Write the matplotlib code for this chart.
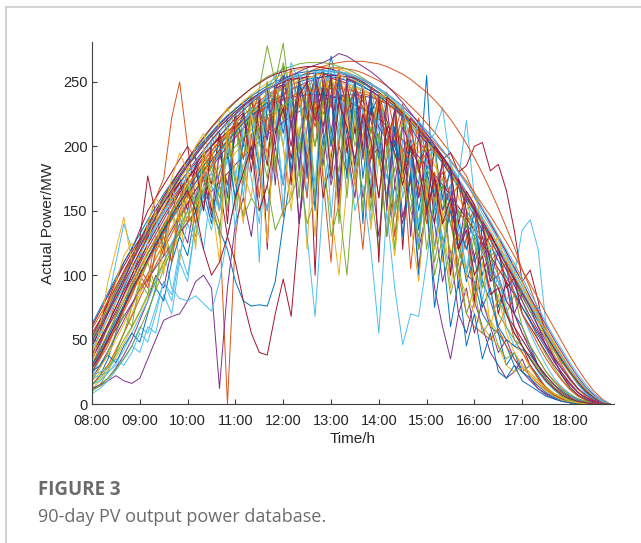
import matplotlib
matplotlib.use("Agg")
import matplotlib.pyplot as plt
import numpy as np
import pandas as pd
from matplotlib.lines import Line2D

#=============================================================================
#... data : PV output power (MW), 10-min samples from 08:00 to 18:50
#....................................
stamps = pd.date_range("2022-06-01 08:00", "2022-06-01 18:50", freq="10min")
hours = stamps.hour + stamps.minute / 60.0

tick_hours = [8, 9, 10, 11, 12, 13, 14, 15, 16, 17, 18]
tick_labels = ["08:00", "09:00", "10:00", "11:00", "12:00", "13:00",
               "14:00", "15:00", "16:00", "17:00", "18:00"]
y_ticks = [0, 50, 100, 150, 200, 250]

day_a = [45, 58, 71, 84, 97, 110, 122, 134, 145, 156, 166,
         176, 185, 193, 201, 208, 215, 221, 227, 232, 237, 241,
         245, 248, 251, 253, 255, 256, 257, 257, 256, 255, 253,
         250, 247, 243, 239, 234, 229, 223, 217, 210, 203, 195,
         187, 178, 169, 160, 150, 140, 130, 119, 108, 97, 86,
         75, 64, 53, 43, 33, 24, 16, 9, 4, 1, 0]
day_b = [30, 40, 51, 62, 74, 86, 98, 110, 121, 132, 143,
         153, 163, 172, 181, 189, 197, 205, 212, 219, 225, 231,
         236, 241, 246, 250, 254, 257, 260, 262, 264, 265, 266,
         266, 266, 265, 264, 262, 259, 256, 252, 247, 242, 236,
         229, 221, 212, 202, 191, 179, 166, 152, 137, 122, 104,
         90, 73, 56, 42, 30, 20, 12, 6, 2, 0, 0]
day_c = [28, 38, 48, 58, 68, 78, 88, 97, 106, 115, 124,
         133, 141, 149, 157, 165, 172, 179, 186, 192, 198, 204,
         209, 214, 219, 223, 227, 231, 234, 236, 238, 239, 240,
         240, 239, 238, 236, 233, 229, 225, 220, 214, 207, 200,
         192, 183, 174, 164, 154, 143, 132, 120, 108, 96, 84,
         72, 60, 49, 38, 28, 19, 12, 6, 2, 0, 0]
day_d = [62, 74, 86, 98, 110, 121, 132, 143, 153, 163, 172,
         181, 189, 197, 204, 211, 218, 224, 229, 234, 239, 243,
         247, 250, 253, 255, 257, 258, 259, 259, 258, 257, 255,
         252, 249, 245, 241, 236, 231, 225, 219, 212, 205, 197,
         188, 178, 168, 157, 146, 135, 123, 111, 99, 87, 75,
         64, 53, 43, 33, 24, 16, 9, 4, 1, 0, 0]
day_e = [12, 18, 26, 36, 47, 59, 71, 83, 95, 107, 119,
         130, 141, 151, 161, 170, 179, 187, 195, 202, 209, 215,
         221, 226, 231, 235, 238, 241, 243, 245, 246, 246, 246,
         245, 243, 240, 237, 233, 228, 223, 217, 210, 203, 196,
         188, 180, 171, 162, 152, 142, 131, 120, 109, 98, 87,
         76, 65, 55, 45, 35, 26, 18, 11, 5, 2, 0]
day_f = [50, 63, 76, 89, 102, 114, 126, 138, 149, 160, 170,
         180, 189, 198, 206, 214, 221, 228, 234, 240, 245, 250,
         254, 257, 260, 262, 264, 265, 265, 265, 264, 262, 260,
         257, 253, 249, 244, 239, 233, 227, 220, 213, 205, 197,
         188, 179, 169, 159, 149, 138, 127, 116, 105, 94, 83,
         72, 61, 51, 41, 32, 24, 16, 10, 5, 2, 0]
day_g = [20, 45, 80, 110, 140, 120, 128, 140, 150, 120, 90,
         82, 80, 84, 78, 72, 95, 130, 160, 185, 200, 175,
         150, 190, 220, 180, 200, 130, 68, 160, 210, 240, 200,
         150, 170, 120, 55, 150, 90, 46, 70, 68, 110, 160,
         130, 100, 140, 120, 150, 130, 110, 120, 115, 100, 135,
         143, 120, 60, 35, 22, 12, 6, 3, 1, 0, 0]
day_h = [15, 22, 35, 55, 75, 95, 110, 125, 140, 150, 165,
         175, 160, 185, 175, 150, 135, 120, 95, 80, 76, 77,
         76, 95, 140, 180, 210, 230, 245, 225, 240, 250, 235,
         240, 230, 225, 215, 205, 200, 180, 190, 170, 255, 150,
         160, 140, 120, 100, 95, 70, 60, 55, 45, 30, 25,
         30, 22, 12, 6, 3, 1, 0, 0, 0, 0, 0]
day_i = [55, 65, 80, 95, 110, 120, 135, 150, 160, 170, 180,
         190, 200, 160, 185, 150, 170, 130, 110, 80, 55, 40,
         38, 70, 97, 68, 140, 200, 230, 160, 190, 240, 210,
         170, 220, 190, 230, 200, 150, 180, 205, 160, 190, 175,
         150, 165, 120, 140, 115, 130, 100, 90, 70, 60, 45,
         30, 20, 12, 7, 4, 2, 1, 0, 0, 0, 0]
day_j = [30, 45, 60, 80, 95, 110, 125, 140, 160, 175, 222,
         250, 200, 190, 175, 160, 140, 0, 130, 175, 200, 215,
         195, 230, 240, 215, 250, 225, 200, 245, 255, 230, 250,
         240, 215, 235, 225, 200, 215, 190, 205, 185, 195, 170,
         180, 160, 150, 140, 130, 118, 105, 95, 80, 70, 55,
         45, 35, 25, 18, 12, 7, 4, 2, 1, 0, 0]
day_k = [12, 14, 18, 22, 18, 16, 20, 35, 50, 65, 68,
         70, 80, 95, 100, 90, 12, 90, 140, 160, 130, 180,
         150, 200, 170, 220, 140, 190, 230, 210, 170, 200, 180,
         215, 160, 190, 200, 130, 170, 140, 180, 120, 150, 90,
         60, 35, 70, 55, 80, 60, 40, 30, 20, 25, 35,
         20, 12, 8, 5, 3, 1, 0, 0, 0, 0, 0]
day_l = [18, 24, 30, 40, 55, 70, 85, 100, 90, 125, 150,
         110, 165, 140, 190, 150, 200, 170, 215, 180, 160, 225,
         190, 240, 200, 150, 215, 120, 240, 180, 150, 100, 170,
         230, 195, 160, 210, 185, 120, 200, 170, 190, 140, 175,
         110, 160, 130, 145, 100, 80, 65, 55, 50, 45, 40,
         28, 20, 13, 8, 5, 3, 1, 0, 0, 0, 0]
day_m = [48, 60, 73, 86, 99, 111, 123, 135, 146, 157, 167,
         177, 186, 194, 202, 209, 190, 222, 150, 232, 220, 245,
         278, 250, 280, 230, 255, 180, 258, 240, 257, 200, 253,
         251, 248, 210, 240, 236, 231, 225, 219, 212, 205, 197,
         189, 180, 171, 162, 152, 142, 132, 121, 110, 99, 88,
         77, 66, 55, 45, 35, 26, 18, 11, 6, 2, 0]
day_n = [35, 48, 60, 70, 85, 100, 115, 130, 140, 150, 162,
         172, 150, 185, 195, 170, 210, 190, 225, 200, 235, 215,
         185, 245, 230, 200, 250, 230, 255, 215, 250, 240, 195,
         245, 235, 225, 240, 220, 200, 225, 215, 205, 195, 200,
         190, 195, 180, 185, 200, 203, 181, 186, 166, 135, 95,
         104, 80, 50, 35, 22, 13, 7, 3, 1, 0, 0]
day_o = [22, 35, 50, 68, 85, 100, 112, 125, 137, 148, 158,
         168, 177, 186, 194, 201, 208, 214, 220, 160, 229, 110,
         237, 240, 200, 245, 247, 160, 250, 251, 251, 215, 249,
         247, 244, 241, 237, 200, 228, 222, 216, 209, 202, 210,
         230, 185, 176, 220, 160, 148, 138, 127, 116, 104, 92,
         80, 68, 56, 45, 34, 24, 15, 8, 3, 1, 0]
day_p = [40, 50, 62, 75, 90, 104, 118, 132, 144, 120, 165,
         140, 185, 192, 150, 205, 212, 160, 225, 230, 190, 240,
         205, 250, 262, 215, 245, 175, 250, 235, 270, 240, 210,
         250, 175, 230, 205, 160, 215, 180, 200, 150, 185, 120,
         170, 155, 90, 150, 140, 100, 120, 75, 95, 70, 60,
         45, 30, 20, 12, 7, 4, 2, 1, 0, 0, 0]
day_q = [50, 62, 75, 88, 101, 113, 125, 137, 148, 159, 169,
         178, 187, 195, 203, 210, 217, 223, 229, 234, 239, 205,
         246, 170, 252, 230, 140, 215, 250, 185, 240, 255, 200,
         160, 225, 180, 130, 190, 210, 145, 175, 105, 160, 140,
         95, 120, 70, 90, 55, 80, 60, 40, 50, 35, 25,
         18, 12, 7, 4, 2, 1, 0, 0, 0, 0, 0]
day_r = [40, 53, 66, 79, 92, 105, 118, 130, 142, 153, 164,
         174, 184, 193, 201, 209, 216, 223, 229, 235, 240, 245,
         249, 253, 256, 258, 260, 261, 262, 262, 261, 260, 258,
         255, 252, 248, 244, 239, 234, 228, 222, 215, 208, 200,
         192, 183, 174, 165, 155, 145, 135, 124, 113, 102, 91,
         80, 69, 58, 48, 38, 28, 19, 12, 6, 2, 0]
day_s = [60, 72, 84, 96, 107, 118, 128, 177, 147, 156, 164,
         172, 180, 187, 194, 200, 206, 211, 216, 220, 224, 228,
         231, 234, 236, 238, 239, 240, 240, 240, 239, 237, 235,
         232, 229, 225, 221, 216, 211, 205, 199, 192, 185, 178,
         170, 162, 153, 144, 135, 125, 115, 105, 95, 85, 75,
         65, 55, 45, 36, 27, 19, 12, 6, 2, 0, 0]
day_t = [10, 15, 25, 40, 55, 75, 95, 85, 120, 140, 110,
         160, 175, 150, 195, 170, 210, 150, 225, 205, 240, 185,
         250, 225, 265, 240, 205, 250, 225, 260, 235, 210, 245,
         225, 250, 200, 235, 215, 180, 220, 195, 205, 175, 195,
         160, 180, 145, 160, 130, 140, 115, 120, 95, 100, 80,
         65, 50, 38, 28, 19, 12, 7, 3, 1, 0, 0]
day_u = [15, 22, 30, 42, 55, 68, 82, 95, 108, 120, 132,
         144, 155, 166, 176, 186, 195, 204, 212, 219, 226, 232,
         238, 243, 247, 251, 254, 257, 259, 260, 261, 261, 260,
         259, 257, 254, 251, 247, 242, 237, 231, 225, 218, 211,
         203, 195, 186, 177, 163, 152, 141, 130, 118, 106, 95,
         82, 70, 58, 47, 37, 27, 18, 11, 5, 2, 0]
day_v = [8, 12, 18, 26, 35, 45, 40, 60, 55, 85, 70,
         110, 95, 140, 120, 170, 150, 200, 135, 215, 230, 200,
         245, 255, 220, 265, 250, 240, 258, 230, 262, 250, 255,
         225, 250, 245, 215, 238, 230, 190, 220, 212, 180, 200,
         150, 185, 175, 130, 155, 145, 100, 120, 80, 95, 70,
         55, 42, 30, 20, 13, 8, 4, 2, 0, 0, 0]
day_w = [25, 35, 45, 60, 75, 90, 105, 95, 130, 115, 150,
         165, 140, 180, 160, 195, 150, 205, 175, 145, 210, 160,
         225, 190, 145, 230, 200, 160, 240, 175, 110, 205, 240,
         180, 120, 200, 160, 215, 130, 190, 105, 170, 140, 180,
         120, 155, 100, 130, 75, 110, 90, 60, 75, 50, 40,
         30, 20, 13, 8, 5, 2, 1, 0, 0, 0, 0]
day_x1 = [35, 47, 59, 71, 83, 95, 107, 118, 129, 140, 150,
          160, 169, 178, 186, 194, 201, 208, 214, 220, 225, 230,
          234, 238, 241, 244, 246, 248, 249, 250, 250, 249, 248,
          246, 244, 241, 237, 233, 228, 223, 217, 211, 204, 197,
          189, 181, 172, 163, 153, 143, 133, 122, 111, 100, 89,
          78, 67, 56, 46, 36, 27, 19, 12, 6, 2, 0]
day_x2 = [20, 30, 41, 53, 65, 77, 89, 101, 113, 124, 135,
          146, 156, 166, 175, 184, 192, 200, 207, 214, 220, 226,
          231, 236, 240, 244, 247, 250, 252, 254, 255, 255, 254,
          253, 251, 248, 245, 241, 236, 231, 225, 219, 212, 205,
          197, 189, 180, 171, 161, 151, 140, 129, 118, 106, 95,
          83, 72, 61, 50, 40, 30, 21, 13, 7, 3, 0]
day_x3 = [18, 28, 40, 55, 70, 60, 95, 110, 90, 135, 150,
          130, 175, 155, 195, 180, 150, 215, 230, 170, 240, 210,
          250, 180, 255, 235, 160, 260, 225, 190, 255, 140, 235,
          250, 200, 170, 240, 215, 150, 225, 190, 120, 200, 165,
          175, 140, 110, 150, 125, 90, 115, 100, 70, 85, 60,
          45, 35, 25, 17, 11, 7, 4, 2, 1, 0, 0]
day_x4 = [20, 22, 25, 30, 35, 45, 60, 55, 75, 95, 85,
          120, 100, 140, 155, 135, 170, 190, 160, 205, 175, 140,
          215, 235, 150, 245, 200, 230, 170, 250, 145, 215, 240,
          180, 230, 140, 205, 175, 230, 160, 190, 125, 175, 150,
          120, 165, 135, 105, 140, 80, 110, 95, 60, 45, 50,
          40, 28, 18, 11, 6, 3, 1, 0, 0, 0, 0]
day_x5 = [52, 65, 78, 91, 103, 115, 127, 139, 150, 161, 171,
          181, 190, 199, 207, 215, 222, 229, 235, 240, 245, 249,
          253, 256, 258, 260, 261, 262, 262, 261, 260, 258, 256,
          253, 250, 246, 242, 237, 232, 226, 220, 213, 206, 198,
          190, 181, 172, 162, 152, 142, 131, 120, 109, 98, 87,
          76, 65, 54, 44, 34, 25, 17, 10, 5, 1, 0]
day_x6 = [25, 37, 50, 63, 76, 89, 101, 113, 125, 136, 147,
          157, 167, 176, 185, 193, 201, 208, 215, 221, 227, 232,
          237, 241, 245, 248, 250, 252, 253, 254, 254, 253, 251,
          249, 246, 243, 239, 234, 229, 224, 218, 180, 205, 198,
          160, 182, 140, 120, 150, 95, 80, 60, 50, 45, 42,
          38, 30, 22, 15, 10, 6, 3, 1, 0, 0, 0]
day_x7 = [30, 42, 55, 68, 80, 93, 105, 117, 128, 139, 150,
          160, 170, 179, 188, 196, 204, 211, 218, 224, 230, 235,
          240, 244, 248, 251, 253, 220, 256, 257, 230, 257, 256,
          254, 252, 249, 230, 242, 210, 233, 180, 222, 190, 170,
          140, 150, 100, 70, 60, 55, 50, 58, 45, 35, 28,
          22, 16, 11, 7, 4, 2, 1, 0, 0, 0, 0]
day_x8 = [40, 55, 75, 95, 115, 125, 110, 140, 160, 150, 175,
          195, 180, 200, 210, 190, 220, 230, 215, 235, 240, 225,
          245, 250, 220, 255, 245, 200, 250, 240, 255, 230, 245,
          215, 240, 220, 235, 225, 205, 220, 210, 195, 200, 185,
          175, 190, 160, 150, 165, 140, 120, 130, 105, 110, 95,
          80, 65, 50, 38, 27, 18, 11, 6, 3, 1, 0]
day_x9 = [12, 15, 20, 28, 38, 50, 65, 80, 100, 90, 120,
          140, 125, 160, 175, 145, 195, 170, 210, 225, 190, 230,
          205, 245, 255, 215, 250, 180, 245, 260, 210, 255, 230,
          185, 245, 220, 195, 235, 170, 215, 200, 160, 195, 175,
          150, 170, 120, 140, 110, 125, 95, 100, 80, 70, 55,
          42, 30, 20, 13, 8, 4, 2, 1, 0, 0, 0]
day_x10 = [30, 42, 55, 68, 80, 92, 104, 116, 127, 138, 149,
           159, 169, 150, 185, 160, 130, 210, 170, 145, 160, 150,
           170, 135, 150, 160, 180, 140, 160, 200, 130, 155, 100,
           180, 210, 165, 120, 200, 145, 185, 150, 130, 170, 110,
           145, 160, 120, 100, 130, 90, 110, 70, 60, 50, 45,
           35, 25, 17, 11, 6, 3, 1, 0, 0, 0, 0]
day_x11 = [15, 18, 24, 32, 42, 55, 68, 80, 95, 110, 125,
           138, 150, 162, 174, 184, 194, 203, 212, 220, 227, 233,
           239, 244, 248, 251, 254, 256, 257, 258, 258, 257, 256,
           254, 251, 248, 244, 240, 235, 229, 223, 216, 209, 201,
           193, 184, 175, 165, 155, 144, 133, 122, 111, 100, 88,
           77, 66, 55, 45, 36, 27, 19, 12, 6, 2, 0]
day_x12 = [45, 57, 70, 82, 94, 106, 118, 129, 140, 151, 161,
           171, 180, 189, 197, 205, 212, 219, 225, 231, 236, 240,
           244, 247, 250, 252, 253, 254, 254, 230, 253, 251, 249,
           210, 244, 160, 237, 200, 228, 120, 217, 180, 204, 140,
           190, 100, 175, 150, 80, 140, 110, 70, 95, 60, 50,
           40, 30, 22, 15, 9, 5, 2, 1, 0, 0, 0]
day_x13 = [25, 30, 38, 32, 45, 55, 48, 70, 90, 80, 110,
           130, 115, 150, 165, 140, 180, 195, 160, 205, 220, 180,
           230, 240, 210, 245, 185, 235, 250, 200, 240, 170, 225,
           245, 195, 230, 215, 155, 205, 180, 200, 135, 180, 160,
           120, 150, 130, 95, 115, 75, 90, 55, 30, 40, 25,
           20, 14, 9, 5, 3, 1, 0, 0, 0, 0, 0]
day_x14 = [58, 69, 80, 91, 102, 112, 122, 132, 141, 150, 159,
           167, 175, 183, 190, 197, 203, 209, 214, 219, 223, 227,
           231, 234, 237, 239, 241, 243, 244, 245, 245, 245, 244,
           243, 241, 239, 236, 233, 229, 225, 220, 215, 209, 203,
           196, 189, 181, 173, 164, 155, 146, 136, 126, 115, 104,
           93, 82, 70, 59, 48, 37, 27, 18, 10, 4, 0]
day_x15 = [20, 28, 38, 50, 62, 75, 88, 100, 113, 125, 137,
           148, 159, 169, 179, 188, 196, 204, 212, 219, 225, 231,
           236, 241, 245, 248, 251, 253, 255, 256, 240, 255, 253,
           251, 248, 200, 241, 237, 232, 180, 220, 213, 160, 198,
           140, 120, 100, 85, 70, 60, 52, 45, 30, 25, 28,
           22, 15, 10, 6, 3, 1, 0, 0, 0, 0, 0]
day_x16 = [35, 47, 60, 72, 85, 97, 109, 121, 132, 143, 154,
           164, 174, 183, 192, 200, 208, 215, 222, 228, 234, 239,
           244, 248, 252, 255, 258, 261, 263, 265, 268, 272, 270,
           266, 262, 258, 253, 247, 241, 234, 226, 218, 210, 201,
           192, 182, 172, 162, 151, 140, 128, 116, 104, 92, 80,
           68, 57, 46, 36, 27, 19, 12, 7, 3, 1, 0]
day_y1 = [10, 14, 20, 27, 35, 45, 58, 72, 88, 105, 120,
          135, 150, 130, 170, 185, 160, 200, 215, 190, 230, 205,
          175, 240, 220, 250, 195, 235, 160, 245, 210, 180, 240,
          200, 225, 150, 210, 185, 120, 195, 160, 140, 175, 100,
          130, 85, 110, 70, 90, 55, 65, 45, 35, 40, 30,
          24, 18, 12, 8, 5, 2, 1, 0, 0, 0, 0]
day_y2 = [22, 25, 28, 35, 30, 40, 55, 48, 70, 95, 80,
          115, 140, 125, 165, 180, 150, 200, 175, 215, 230, 185,
          240, 220, 170, 250, 235, 195, 255, 240, 200, 250, 185,
          235, 215, 170, 225, 200, 150, 205, 185, 140, 190, 165,
          120, 170, 150, 100, 140, 115, 80, 100, 75, 55, 45,
          35, 25, 17, 11, 7, 4, 2, 1, 0, 0, 0]
day_y3 = [38, 50, 62, 75, 88, 100, 112, 124, 135, 146, 156,
          166, 175, 184, 150, 200, 207, 140, 220, 226, 180, 236,
          120, 245, 248, 170, 252, 254, 100, 256, 255, 150, 252,
          250, 200, 245, 110, 238, 233, 175, 222, 215, 150, 200,
          192, 183, 140, 165, 155, 120, 132, 120, 90, 98, 70,
          60, 50, 40, 30, 22, 15, 9, 5, 2, 0, 0]
day_y4 = [30, 41, 53, 65, 77, 89, 101, 112, 123, 134, 144,
          154, 163, 172, 181, 189, 197, 204, 211, 218, 224, 229,
          234, 210, 243, 180, 250, 225, 150, 250, 200, 252, 175,
          248, 140, 240, 190, 160, 215, 130, 180, 100, 160, 75,
          120, 60, 95, 45, 70, 35, 55, 25, 20, 30, 18,
          14, 10, 6, 4, 2, 1, 0, 0, 0, 0, 0]
day_y5 = [25, 36, 48, 60, 72, 84, 100, 90, 118, 130, 110,
          150, 165, 140, 180, 195, 170, 205, 220, 190, 225, 240,
          210, 245, 225, 260, 230, 245, 215, 250, 235, 260, 225,
          245, 230, 210, 240, 200, 225, 195, 215, 180, 205, 170,
          185, 160, 170, 140, 150, 120, 130, 100, 110, 85, 70,
          58, 46, 35, 26, 18, 11, 6, 3, 1, 0, 0]
day_y6 = [30, 60, 95, 120, 145, 110, 90, 125, 150, 100, 170,
          140, 185, 120, 200, 160, 110, 215, 180, 140, 225, 190,
          125, 230, 200, 160, 240, 205, 130, 235, 190, 150, 225,
          170, 210, 135, 190, 160, 115, 180, 140, 95, 165, 120,
          150, 90, 130, 100, 75, 110, 60, 85, 55, 40, 30,
          24, 18, 12, 8, 5, 2, 1, 0, 0, 0, 0]
day_y7 = [48, 60, 72, 85, 97, 110, 122, 134, 145, 156, 166,
          176, 185, 193, 201, 208, 215, 221, 227, 232, 237, 241,
          245, 200, 251, 253, 180, 256, 257, 210, 256, 160, 253,
          250, 190, 243, 239, 150, 229, 223, 130, 210, 203, 160,
          187, 178, 120, 160, 150, 140, 95, 119, 108, 70, 86,
          75, 60, 45, 33, 24, 16, 9, 4, 1, 0, 0]
day_y8 = [15, 20, 28, 38, 50, 60, 72, 85, 98, 110, 122,
          134, 145, 156, 166, 175, 184, 192, 200, 207, 213, 219,
          224, 228, 232, 235, 236, 237, 200, 236, 180, 232, 160,
          228, 150, 215, 205, 130, 195, 170, 150, 190, 120, 160,
          170, 110, 150, 140, 90, 120, 105, 80, 70, 55, 45,
          36, 28, 20, 13, 8, 4, 2, 1, 0, 0, 0]
day_y9 = [42, 55, 67, 80, 92, 104, 116, 128, 139, 150, 160,
          170, 180, 188, 196, 204, 211, 218, 224, 230, 235, 240,
          244, 248, 251, 254, 256, 240, 258, 259, 259, 258, 257,
          255, 252, 249, 245, 241, 236, 231, 200, 219, 212, 205,
          197, 189, 180, 171, 162, 152, 142, 131, 120, 109, 98,
          86, 75, 63, 52, 42, 32, 23, 15, 8, 3, 0]
day_y10 = [28, 38, 50, 62, 75, 88, 100, 112, 124, 135, 146,
           156, 166, 150, 120, 100, 110, 130, 160, 180, 200, 150,
           170, 210, 230, 190, 240, 250, 220, 245, 175, 235, 215,
           190, 225, 205, 160, 215, 195, 170, 200, 185, 150, 175,
           140, 160, 120, 135, 100, 115, 85, 90, 70, 55, 45,
           35, 26, 18, 12, 7, 4, 2, 1, 0, 0, 0]

# order chosen so the colour cycle falls as in the reference
days = [day_h, day_j, day_l, day_k, day_m, day_g, day_i,
        day_p, day_u, day_r, day_q, day_t, day_o, day_n,
        day_a, day_b, day_e, day_c, day_f, day_v, day_s,
        day_d, day_w, day_x1, day_x2, day_x3, day_x4, day_x5,
        day_x6, day_x7, day_x8, day_x9, day_x10, day_x11, day_x12,
        day_x13, day_x14, day_x15, day_x16, day_y1, day_y2, day_y3,
        day_y4, day_y5, day_y6, day_y7, day_y8, day_y9, day_y10]

#... MATLAB default colour order
colours = ["#0072BD", "#D95319", "#EDB120", "#7E2F8E",
           "#77AC30", "#4DBEEE", "#A2142F"]

#=============================================================================
#... create the figure
#....................................
fig = plt.figure(figsize=(6.41, 5.43), dpi=100)
ax = fig.add_axes([92/641, 1-404/543, 522/641, 362/543])

for i, d in enumerate(days):
    ax.plot(hours, d, color=colours[i % len(colours)], lw=0.7)

ax.set_xlim(8, 18.92)
ax.set_ylim(0, 281)
ax.set_xticks(tick_hours)
ax.set_xticklabels(tick_labels)
ax.set_yticks(y_ticks)
for s in ["top", "right"]:
    ax.spines[s].set_visible(False)
for s in ["left", "bottom"]:
    ax.spines[s].set_color("#404040")
    ax.spines[s].set_linewidth(0.8)
ax.tick_params(direction="in", length=3.5, width=0.8, color="#404040",
               labelsize=10.5, labelcolor="#262626")
ax.tick_params(axis="x", pad=7)
ax.tick_params(axis="y", pad=3)
for lab in ax.get_xticklabels() + ax.get_yticklabels():
    lab.set_fontfamily("Liberation Sans")
ax.set_xlabel("Time/h", fontsize=11, family="Liberation Sans",
              color="#262626", labelpad=3)
ax.set_ylabel("Actual Power/MW", fontsize=11, family="Liberation Sans",
              color="#262626", labelpad=6)

#... card border and caption
fig.add_artist(Line2D([6/641, 1], [1-7/543, 1-7/543], color="#cccccc", lw=1.2))
fig.add_artist(Line2D([6/641, 6/641], [0, 1-7/543], color="#cccccc", lw=1.2))
fig.text(38/641, 1-490/543, "FIGURE 3", fontsize=13.5, family="Open Sans",
         weight="bold", color="#6b6b6b", va="center")
fig.text(38/641, 1-517/543, "90-day PV output power database.", fontsize=13,
         family="Open Sans", color="#6b6b6b", va="center")

fig.savefig("out.png", dpi=100)
